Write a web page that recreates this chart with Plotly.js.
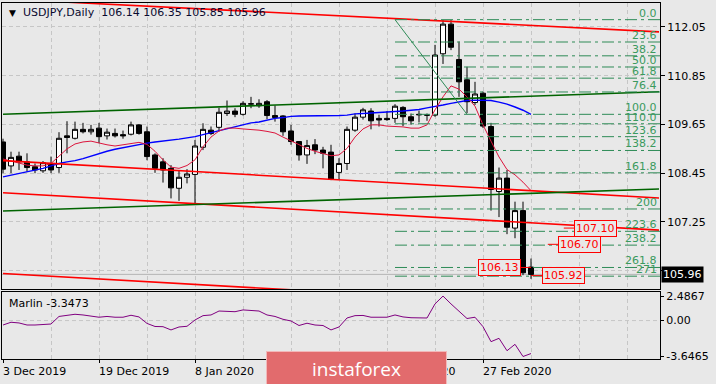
<!DOCTYPE html>
<html><head><meta charset="utf-8">
<script src="https://cdn.plot.ly/plotly-3.0.1.min.js"></script>
<style>html,body{margin:0;padding:0;background:#e8e8e8;}#chart{width:716px;height:384px;}</style>
</head><body><div id="chart"></div>
<script>
// ---- data (bar index = trading day) ----
const dates = ['3 Dec 2019','4 Dec 2019','5 Dec 2019','6 Dec 2019','9 Dec 2019','10 Dec 2019','11 Dec 2019','12 Dec 2019','13 Dec 2019','16 Dec 2019',
'17 Dec 2019','18 Dec 2019','19 Dec 2019','20 Dec 2019','23 Dec 2019','24 Dec 2019','26 Dec 2019','27 Dec 2019','30 Dec 2019','31 Dec 2019',
'2 Jan 2020','3 Jan 2020','6 Jan 2020','7 Jan 2020','8 Jan 2020','9 Jan 2020','10 Jan 2020','13 Jan 2020','14 Jan 2020','15 Jan 2020',
'16 Jan 2020','17 Jan 2020','20 Jan 2020','21 Jan 2020','22 Jan 2020','23 Jan 2020','24 Jan 2020','27 Jan 2020','28 Jan 2020','29 Jan 2020',
'30 Jan 2020','31 Jan 2020','3 Feb 2020','4 Feb 2020','5 Feb 2020','6 Feb 2020','7 Feb 2020','10 Feb 2020','11 Feb 2020','12 Feb 2020',
'13 Feb 2020','14 Feb 2020','17 Feb 2020','18 Feb 2020','19 Feb 2020','20 Feb 2020','21 Feb 2020','24 Feb 2020','25 Feb 2020','26 Feb 2020',
'27 Feb 2020','28 Feb 2020','2 Mar 2020','3 Mar 2020','4 Mar 2020','5 Mar 2020','6 Mar 2020'];
const opens = [109.22,108.63,108.87,108.73,108.61,108.51,108.69,108.59,109.37,109.31,
109.53,109.47,109.56,109.37,109.43,109.40,109.41,109.64,109.47,108.90,
108.73,108.57,108.08,108.35,108.42,109.09,109.51,109.58,109.92,109.98,
109.90,110.15,110.11,110.21,109.87,109.86,109.49,109.23,108.90,109.15,
109.02,108.97,108.47,108.69,109.51,109.83,109.98,109.80,109.80,109.80,
110.07,109.84,109.90,109.88,109.88,111.39,112.12,111.25,110.75,110.19,
110.42,109.60,108.00,108.33,107.10,107.53,106.14];
const highs = [109.30,108.98,108.98,108.94,108.69,108.75,108.86,109.46,109.73,109.72,
109.69,109.64,109.69,109.55,109.55,109.50,109.72,109.66,109.60,108.94,
108.82,108.65,108.51,108.55,109.27,109.68,109.60,110.06,110.24,110.05,
110.22,110.33,110.27,110.25,110.12,109.88,109.64,109.24,109.27,109.29,
109.10,109.15,108.82,109.60,109.92,110.06,110.05,109.89,109.98,110.15,
110.10,109.92,109.99,109.92,111.61,112.22,112.22,111.69,111.07,110.70,
110.46,109.69,108.59,108.53,107.75,107.75,106.35];
const lows = [108.45,108.45,108.53,108.49,108.45,108.46,108.45,108.46,108.94,109.28,
109.43,109.40,109.19,109.28,109.33,109.30,109.38,109.40,108.77,108.46,
108.22,107.83,107.77,108.20,107.69,109.02,109.39,109.48,109.86,109.83,
109.87,110.05,110.06,109.78,109.72,109.37,109.15,108.76,108.68,108.92,
108.57,108.28,108.30,108.53,109.47,109.77,109.53,109.60,109.74,109.69,
109.61,109.65,109.70,109.74,109.84,111.14,111.48,110.33,109.93,110.13,
109.56,107.53,107.37,106.95,106.85,105.94,105.85];
const closes = [108.55,108.84,108.73,108.59,108.53,108.71,108.53,109.31,109.33,109.53,
109.47,109.53,109.35,109.46,109.37,109.37,109.64,109.43,108.86,108.57,
108.53,108.09,108.35,108.43,109.12,109.53,109.43,109.95,109.98,109.90,
110.17,110.16,110.17,109.87,109.82,109.47,109.23,108.90,109.13,109.02,
108.94,108.30,108.69,109.53,109.83,110.01,109.74,109.76,109.77,110.10,
109.84,109.74,109.89,109.88,111.36,112.12,111.55,110.70,110.21,110.40,
109.61,108.05,108.33,107.12,107.53,106.00,105.96];
const maFast = [108.80,108.75,108.70,108.65,108.63,108.63,108.69,108.87,109.05,109.17,
109.22,109.24,109.19,109.15,109.12,109.15,109.19,109.21,109.16,108.99,
108.78,108.60,108.57,108.64,108.78,109.10,109.34,109.49,109.56,109.56,
109.54,109.53,109.51,109.48,109.44,109.34,109.24,109.16,109.06,108.99,
108.93,108.88,108.90,109.06,109.34,109.54,109.64,109.64,109.61,109.60,
109.59,109.56,109.56,109.64,110.01,110.33,110.60,110.52,110.33,110.10,
109.64,109.24,108.85,108.54,108.41,108.23,108.02];
const maSlow = [108.36,108.40,108.44,108.48,108.52,108.57,108.63,108.69,108.73,108.76,
108.81,108.87,108.94,108.99,109.04,109.08,109.12,109.16,109.19,109.22,
109.24,109.27,109.29,109.32,109.35,109.40,109.45,109.50,109.55,109.60,
109.64,109.69,109.71,109.76,109.80,109.82,109.85,109.86,109.86,109.86,
109.86,109.86,109.87,109.88,109.91,109.92,109.93,109.95,109.96,109.97,
109.98,110.00,110.02,110.06,110.09,110.13,110.17,110.20,110.24,110.25,
110.25,110.24,110.20,110.15,110.08,110.00,109.90];
const marlin = [-0.45,-0.17,-0.24,-0.45,-0.45,-0.40,-0.35,0.42,0.52,0.64,
0.57,0.42,0.34,0.42,0.34,0.34,0.54,0.37,-0.29,-0.60,
-0.62,-0.95,-0.65,-0.58,0.06,0.50,0.57,0.97,0.97,0.90,
1.08,1.03,0.97,0.57,0.42,0.13,-0.04,-0.50,-0.27,-0.45,
-0.50,-0.95,-0.65,0.26,0.50,0.52,0.34,0.34,0.34,0.57,
0.37,0.29,0.29,0.26,1.69,2.4867,1.69,0.97,0.21,0.34,
-0.62,-2.14,-1.80,-3.06,-2.41,-3.6465,-3.3473];
const priceTicks = [112.05,110.85,109.65,108.45,107.25,106.05];
const priceTickText = ['112.05','110.85','109.65','108.45','107.25',''];
const dateLabelBars = [0,12,24,36,48,60];
const marlinTicks = [2.4867,0,-3.6465];
const marlinTickText = ['2.4867','0.00','-3.6465'];
const lastPrice = 105.96;
const fibLevels = [0,23.6,38.2,50,61.8,76.4,100,110,123.6,138.2,161.8,200,223.6,238.2,261.8,271];
const fibText = ['0.0','23.6','38.2','50.0','61.8','76.4','100.0','110.0','123.6','138.2','161.8','200','223.6','238.2','261.8','271'];
const fibHigh = 112.23, fibLow = 109.90, fibBarA = 49, fibBarB = 58;
// trend lines: [bar0, price0, bar1, price1]
const redLines = [[0,112.74,82,111.93],[0,108.76,82,107.84],[0,107.97,82,107.05],[0,105.98,82,105.07]];
const greenLines = [[0,109.90,82,110.455],[0,107.52,82,108.06]];
// price labels: [price, text, line from bar, line to bar, anchor side]
const priceMarks = [[107.10,'107.10',70.1,71.375,'left'],[106.70,'106.70',68.1,69.375,'left'],
                    [106.13,'106.13',66,64.75,'right'],[105.93,'105.92',66,67.375,'left']];

// ---- build ----
const N = closes.length;
const idx = Array.from({length:N},(_,i)=>i);
const X0 = -0.125, X1 = 82.125;
const FONT = 'DejaVu Sans';
const GRID = '#c6c6c6';

const traces = [
 {type:'candlestick', x:idx, open:opens, high:highs, low:lows, close:closes, xaxis:'x', yaxis:'y',
  increasing:{line:{color:'#000',width:1}, fillcolor:'#ffffff'},
  decreasing:{line:{color:'#000',width:1}, fillcolor:'#000000'},
  whiskerwidth:0, hoverinfo:'skip'},
 {type:'scatter', mode:'lines', x:idx, y:maSlow, line:{color:'#0000ff',width:1.4}, xaxis:'x', yaxis:'y', hoverinfo:'skip'},
 {type:'scatter', mode:'lines', x:idx, y:maFast, line:{color:'#dc143c',width:1}, xaxis:'x', yaxis:'y', hoverinfo:'skip'},
 {type:'scatter', mode:'lines', x:idx, y:marlin, line:{color:'#800080',width:1}, xaxis:'x2', yaxis:'y2', hoverinfo:'skip'}
];

const shapes = [];
redLines.forEach(l=>shapes.push({type:'line',xref:'x',yref:'y',x0:l[0],y0:l[1],x1:l[2],y1:l[3],line:{color:'#ff0000',width:1.6}}));
greenLines.forEach(l=>shapes.push({type:'line',xref:'x',yref:'y',x0:l[0],y0:l[1],x1:l[2],y1:l[3],line:{color:'#006400',width:1.6}}));
const fibPrice = r => fibHigh - r/100*(fibHigh-fibLow);
fibLevels.forEach(r=>shapes.push({type:'line',xref:'x',yref:'y',x0:fibBarA,x1:X1,y0:fibPrice(r),y1:fibPrice(r),line:{color:'#2e8b57',width:1,dash:'12px,4px,3px,4px'}}));
shapes.push({type:'line',xref:'x',yref:'y',x0:fibBarA,y0:fibHigh,x1:fibBarB,y1:fibLow,line:{color:'#2e8b57',width:1}});
shapes.push({type:'line',xref:'paper',yref:'y',x0:0,x1:1,y0:lastPrice,y1:lastPrice,line:{color:'#b4b4b4',width:1},layer:'below'});
shapes.push({type:'line',xref:'paper',yref:'y2',x0:0,x1:1,y0:0,y1:0,line:{color:GRID,width:1,dash:'4px,3px'},layer:'below'});
priceMarks.forEach(m=>shapes.push({type:'line',xref:'x',yref:'y',x0:m[2],x1:m[3],y0:m[0],y1:m[0],line:{color:'#ff0000',width:1}}));

const annotations = [];
fibLevels.forEach((r,k)=>annotations.push({xref:'x',yref:'y',x:81.9,y:fibPrice(r),xanchor:'right',yanchor:'bottom',
  text:fibText[k],showarrow:false,font:{family:FONT,size:11,color:'#3a9a5e'},borderpad:0,yshift:-1}));
priceMarks.forEach(m=>annotations.push({xref:'x',yref:'y',x:m[3],y:m[0],xanchor:m[4],yanchor:'middle',text:m[1],showarrow:false,
  font:{family:FONT,size:11,color:'#ff0000'},bordercolor:'#ff0000',borderwidth:1,borderpad:1,bgcolor:'#e8e8e8'}));
annotations.push({xref:'paper',yref:'y',x:1,xshift:1,y:lastPrice,xanchor:'left',yanchor:'middle',text:'105.96',showarrow:false,
  font:{family:FONT,size:11,color:'#ffffff'},bgcolor:'#000000',borderpad:1});
annotations.push({xref:'paper',yref:'paper',x:0.0076,y:0.9728,xanchor:'left',yanchor:'middle',text:'▼',showarrow:false,font:{family:FONT,size:9,color:'#000'}});
annotations.push({xref:'paper',yref:'paper',x:0.0289,y:0.9728,xanchor:'left',yanchor:'middle',
  text:'USDJPY,Daily\u00a0\u00a0106.14 106.35 105.85 105.96',showarrow:false,font:{family:FONT,size:11,color:'#0a0a30'}});
annotations.push({xref:'paper',yref:'paper',x:0.0076,y:0.157,xanchor:'left',yanchor:'middle',text:'Marlin -3.3473',showarrow:false,font:{family:FONT,size:11,color:'#000'}});
dateLabelBars.forEach(b=>annotations.push({xref:'x2',yref:'paper',x:b,y:-0.0365,xanchor:'left',yanchor:'middle',xshift:-2,
  text:dates[b],showarrow:false,font:{family:FONT,size:11,color:'#000'}}));
annotations.push({xref:'paper',yref:'paper',x:0.5395,y:-0.0253,xanchor:'center',yanchor:'middle',text:'instaforex',showarrow:false,
  width:177,height:31,bgcolor:'#e26b6d',bordercolor:'#f2b8b9',borderwidth:1,font:{family:'Open Sans',size:19,color:'#ffffff'}});

const xCommon = {range:[X0,X1], showline:true, mirror:true, linecolor:'#000', linewidth:1, zeroline:false,
  tickmode:'array', tickvals:dateLabelBars, showgrid:true, gridcolor:GRID, griddash:'4px,3px', gridwidth:1,
  minor:{tickmode:'linear', tick0:0, dtick:6, showgrid:true, gridcolor:GRID, griddash:'4px,3px', ticks:''},
  showticklabels:false, fixedrange:true};

const layout = {
 width:716, height:384, margin:{l:2,r:56,t:3,b:25},
 paper_bgcolor:'#e8e8e8', plot_bgcolor:'#e8e8e8', showlegend:false,
 boxgap:0.375, boxgroupgap:0,
 xaxis:Object.assign({}, xCommon, {anchor:'y', ticks:'', rangeslider:{visible:false}}),
 xaxis2:Object.assign({}, xCommon, {anchor:'y2', ticks:'outside', ticklen:3, tickcolor:'#000'}),
 yaxis:{domain:[0.1966,1], range:[105.60,112.64], side:'right', tickmode:'array', tickvals:priceTicks, ticktext:priceTickText,
  ticks:'outside', ticklen:4, tickcolor:'#000', showgrid:true, gridcolor:GRID, griddash:'4px,3px', zeroline:false,
  showline:true, mirror:true, linecolor:'#000', tickfont:{family:FONT,size:11,color:'#000'}, fixedrange:true},
 yaxis2:{domain:[0,0.1882], range:[-3.9,2.9], side:'right', tickmode:'array', tickvals:marlinTicks, ticktext:marlinTickText,
  ticks:'outside', ticklen:3, tickcolor:'#000', showgrid:false, zeroline:false,
  showline:true, mirror:true, linecolor:'#000', tickfont:{family:FONT,size:11,color:'#000'}, fixedrange:true},
 shapes:shapes, annotations:annotations
};
Plotly.newPlot('chart', traces, layout, {staticPlot:true, displayModeBar:false});
</script></body></html>
